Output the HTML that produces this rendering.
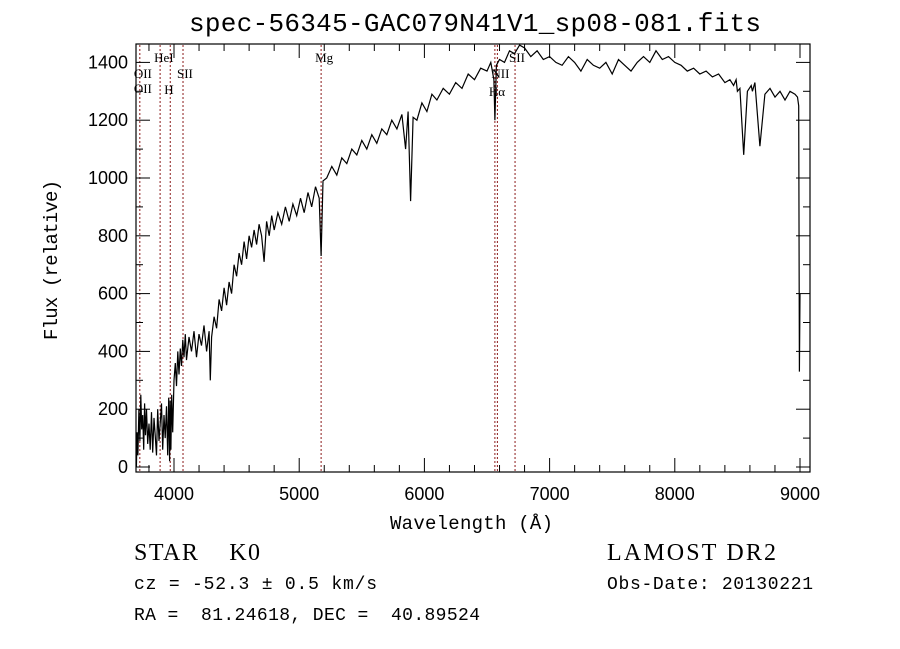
<!DOCTYPE html>
<html><head><meta charset="utf-8"><style>
body{margin:0;background:#fff;}
svg{display:block;}
text{white-space:pre;}
</style></head><body>
<svg width="900" height="649" xmlns="http://www.w3.org/2000/svg">
<rect width="900" height="649" fill="#fff"/>
<text x="475" y="31" text-anchor="middle" font-family="Liberation Mono, monospace" font-size="26" textLength="572">spec-56345-GAC079N41V1_sp08-081.fits</text>
<g id="lines"></g>
<g id="axes"></g>
<path id="spec" fill="none" stroke="#000" stroke-width="1.2"/>
<text x="390" y="529" font-family="Liberation Mono, monospace" font-size="19" textLength="163">Wavelength (Å)</text>
<text transform="translate(57,340) rotate(-90)" font-family="Liberation Mono, monospace" font-size="19" textLength="160">Flux (relative)</text>
<text x="134" y="560" font-family="Liberation Serif, serif" font-size="24" textLength="126" xml:space="preserve">STAR    K0</text>
<text x="134" y="589" font-family="Liberation Mono, monospace" font-size="18" textLength="243" xml:space="preserve">cz = -52.3 ± 0.5 km/s</text>
<text x="134" y="620" font-family="Liberation Mono, monospace" font-size="18" textLength="346" xml:space="preserve">RA =  81.24618, DEC =  40.89524</text>
<text x="607" y="560" font-family="Liberation Serif, serif" font-size="24" textLength="169">LAMOST DR2</text>
<text x="607" y="589" font-family="Liberation Mono, monospace" font-size="18" textLength="206">Obs-Date: 20130221</text>
</svg>
<script>
const xTicks=[4000,5000,6000,7000,8000,9000];
const yTicks=[0,200,400,600,800,1000,1200,1400];
const lineNames=["OII","HeI","H","SII","Mg","Hα","NII","SII"];
const lineWaves=[3727,3889,3970,4072,5175,6563,6583,6724];
const specWave=[3700,3705,3712,3720,3728,3735,3742,3750,3758,3765,3772,3780,3790,3800,3810,3820,3830,3840,3850,3860,3870,3880,3890,3900,3910,3920,3930,3940,3950,3958,3965,3970,3975,3982,3990,4000,4010,4020,4030,4040,4050,4060,4070,4080,4090,4100,4120,4140,4160,4180,4200,4220,4240,4260,4280,4290,4300,4320,4340,4360,4380,4400,4420,4440,4460,4480,4500,4520,4540,4560,4580,4600,4620,4640,4660,4680,4700,4720,4740,4760,4780,4800,4830,4860,4890,4920,4950,4980,5010,5040,5070,5100,5130,5160,5175,5190,5220,5260,5300,5340,5380,5420,5460,5500,5540,5580,5620,5660,5700,5740,5780,5820,5850,5870,5890,5910,5940,5980,6020,6060,6100,6150,6200,6250,6300,6350,6400,6450,6500,6530,6555,6563,6575,6600,6640,6680,6720,6760,6800,6850,6900,6950,7000,7050,7100,7150,7200,7250,7300,7350,7400,7450,7500,7550,7600,7650,7700,7750,7800,7850,7900,7950,8000,8050,8100,8150,8200,8250,8300,8350,8400,8440,8470,8490,8500,8520,8550,8580,8610,8620,8640,8680,8720,8760,8800,8840,8880,8920,8960,8980,8990,8995,9000];
const specFlux=[0,120,40,200,90,250,130,180,60,220,110,200,80,150,60,190,50,170,110,40,200,90,150,220,60,180,100,210,40,240,20,230,60,250,120,300,360,280,400,320,410,350,440,380,460,370,450,400,470,380,460,420,490,400,470,300,450,520,480,580,540,620,560,640,600,700,660,740,700,780,720,800,760,820,770,840,800,710,850,800,870,820,880,840,900,850,910,870,930,880,950,900,970,930,730,990,1000,1040,1010,1070,1050,1100,1080,1130,1100,1150,1120,1170,1150,1200,1170,1220,1100,1230,920,1210,1200,1260,1230,1290,1270,1310,1290,1330,1310,1360,1340,1380,1370,1400,1340,1200,1390,1410,1400,1440,1430,1460,1450,1420,1440,1410,1420,1400,1390,1420,1400,1370,1410,1390,1380,1400,1360,1410,1390,1370,1400,1420,1400,1440,1410,1420,1400,1390,1370,1380,1360,1370,1350,1360,1330,1340,1320,1340,1300,1310,1080,1300,1320,1300,1330,1110,1290,1310,1280,1300,1270,1300,1290,1280,1250,330,600,0];
const X=w=>174+(w-4000)*0.1252;
const Y=f=>467-f*0.289;
const NS="http://www.w3.org/2000/svg";
const ax=document.getElementById('axes');
function mk(tag,attrs,parent){const e=document.createElementNS(NS,tag);for(const k in attrs)e.setAttribute(k,attrs[k]);parent.appendChild(e);return e;}
const frame=mk('rect',{x:136,y:44,width:674,height:428,fill:'none',stroke:'#000','stroke-width':1.2},ax);


for(let w=3800;w<=9000;w+=200){const major=w%1000===0;const l=major?14:7;
 const t1=mk('line',{x1:X(w),x2:X(w),y1:472,y2:472-l,stroke:'#000'},ax);
 
 
 const t2=mk('line',{x1:X(w),x2:X(w),y1:44,y2:44+l,stroke:'#000'},ax);
 
 }
xTicks.forEach(w=>{const t=mk('text',{x:X(w),y:500,'text-anchor':'middle','font-family':'Liberation Sans, sans-serif','font-size':18},ax);t.textContent=w;
 
 });
for(let f=0;f<=1450;f+=100){const major=f%200===0;const l=major?14:7;
 const t1=mk('line',{x1:136,x2:136+l,y1:Y(f),y2:Y(f),stroke:'#000'},ax);
 
 
 const t2=mk('line',{x1:810,x2:810-l,y1:Y(f),y2:Y(f),stroke:'#000'},ax);
 
 }
yTicks.forEach(f=>{const t=mk('text',{x:128,y:Y(f)+6,'text-anchor':'end','font-family':'Liberation Sans, sans-serif','font-size':18},ax);t.textContent=f;
 
 });
const lg=document.getElementById('lines');
const labY=[93,62,94,78,62,96,78,62];
lineWaves.forEach((w,i)=>{
 const l=mk('line',{x1:X(w),x2:X(w),y1:45,y2:471,stroke:'#8b1a1a','stroke-dasharray':'2,2','stroke-width':1},lg);
 
 
 const t=mk('text',{x:X(w)-6,y:labY[i],'font-family':'Liberation Serif, serif','font-size':13},lg);t.textContent=lineNames[i];
 
 });
const o2=mk('text',{x:X(3727)-6,y:78,'font-family':'Liberation Serif, serif','font-size':13},lg);o2.textContent='OII';


let d='';specWave.forEach((w,i)=>{d+=(i?'L':'M')+X(w).toFixed(1)+','+Y(specFlux[i]).toFixed(1);});
document.getElementById('spec').setAttribute('d',d);
</script>
</body></html>
